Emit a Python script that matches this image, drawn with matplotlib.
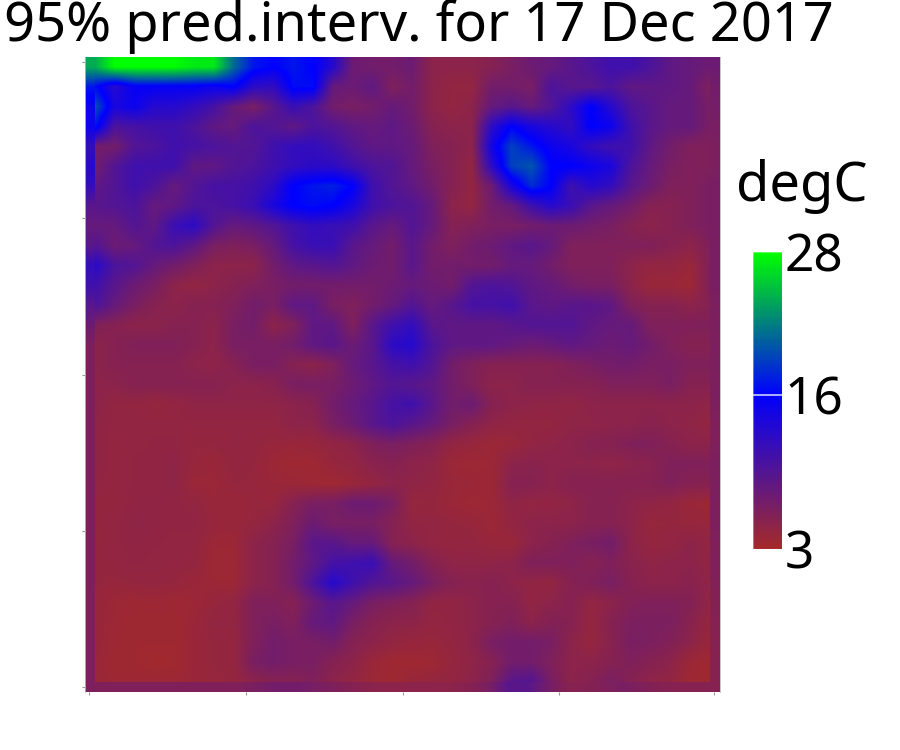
import numpy as np
import matplotlib
matplotlib.use('Agg')
import matplotlib.pyplot as plt
from matplotlib.colors import LinearSegmentedColormap

# values, degC, top row first
grid_rows = [
    [24,28,28,28,28,27,27,21,17,16,17,16,13,7.5,7,7, 7.5,5,5,5,5.5,6.5,7.5,8,9,10,11,11,10,8.5,8,7.5],
    [16.5,13,15.5,15.5,15.5,15.5,15,16,12.5,12,16.5,16.5,8,7.5,8.5,6, 7,5,4.5,4.5,7,7,6.5,10,9,9,10,8.5,8.5,8.5,8,6],
    [20,14,15,13,13,12,10.5,8,6.5,9,11.5,10,7,6.5,7,8, 7,5,4.5,5,8,9,8,9.5,12.5,16,13,10,9,8,8,6.5],
    [17,10,10.5,11,11,10,8.5,8,10,9.5,8.5,10,9.5,8.5,8,8.5, 7.5,5.5,5,5,12.5,16,14,13,12,16,15,11,9,8,8,6.5],
    [7,7,9.5,10,11,10.5,10,9.5,9.5,11,12,12,11,9.5,8.5,8.5, 8,6,5.5,5,14.5,19,17,15,14,12,11,11,8.5,7,6,6],
    [7,9.5,11,11,11,8.5,8.5,9.5,10,11,12,12.5,12.5,11,10,9.5, 8,6.5,5.5,4.5,12.5,19,20,16,16,15,14,10,8,6.5,6,6],
    [8.5,9.5,11,10,8,9.5,10.5,10.5,11,12.5,16,17,17.5,16,11,9.5, 8.5,7,5.5,4.5,7.5,14,18,16,11,13,12,9,7.5,6,6,6.5],
    [9,9.5,10,8,8.5,10,10,10.5,11.5,14,16,16.5,16,14,11,10, 9.5,8,5,4.5,7,8,11,13,11.5,9,8,7,5.5,5.5,6,6.5],
    [8,8,9.5,8.5,11.5,12.5,9.5,8,8.5,9.5,11,12,11.5,11,9,8, 9.5,8,5.5,6,6.5,6.5,7,7.5,7.5,7,6.5,5.5,5,5.5,6,6.5],
    [9.5,7.5,8,9.5,10,8.5,6.5,6,6.5,8,10.5,11.5,11.5,9,8,7, 9,7,6,7,7.5,8.5,9,8,6,6,6,6,6,5.5,5,6],
    [13,10,9.5,8,7,6,5,5,5,7,8.5,9,9.5,8.5,7.5,7, 9,7,7,7,7,8,8,7,6,6,6,5,4.5,4.5,4,6],
    [11,9,7.5,6.5,5,4.5,5,5.5,6,6.5,7,7,7,7,7,7.5, 8,7.5,7,9.5,10,9.5,8.5,8,7,6.5,6.5,5,4,4,3.7,6],
    [10,8,6.5,5.5,5,5.5,5.5,6,7,6.5,8.5,8.5,6.5,6,7,8, 9.5,8,9,10.5,10.5,11,9,8.5,9,9,8.5,6,5.5,5.5,5,5.5],
    [6,5.5,5,5,5.5,5.5,5,6.5,7,5,6,8.5,8.5,6,9,11, 12,9,8.5,8.5,8.5,9,9.5,9.5,9.5,8.5,8,8,6,6,6,6],
    [5,5.5,6,6,6,5.5,5,6.5,6.5,6.5,7,8.5,9,7.5,9,12.5, 13,10,8.5,8.5,8.5,8,7.5,8,8.5,8,7.5,8,7,6,5.5,5.5],
    [5,5.5,5.5,5.5,5.5,5,4.8,5.5,6.5,6.5,5.5,5,6,8,9,10.5, 11,9.5,7,6,5.5,5.5,5.5,5.5,6,6.5,7,7,6.5,6.5,6,6],
    [5,5,5.5,5.5,5.5,5.5,5.5,5,5,5.3,6.5,6.5,6.5,7.5,8.5,9.5, 9,8.5,7,6,5,5,5.5,5.5,5.5,5.5,6,6,6,6.5,5.5,5.5],
    [5,4.5,4.5,4.2,4.5,4.8,4.8,4.8,4.8,4.8,5,5.5,7,8,9,10.5, 11,9,7,7.5,5.5,5,4.8,4.8,4.6,5,5,5,5,5,5,4.8],
    [4.8,4.5,4.5,4.5,4.5,4.5,4.5,4.5,4.5,4.5,5,5,6.5,7.5,9,10, 9,8,6.5,5.5,4.8,4.5,4.5,4.5,4.8,4.8,5,5,5.3,5,4.8,4.5],
    [4.8,4.4,4.5,4.6,4.6,4.3,4.3,4.5,4.4,4.2,4,4.2,4.6,5,6,6.5, 6,5.5,4.5,4.2,3.8,4,4.6,4.8,5,5.5,5.5,6,6,5.5,5,5],
    [4.8,4.4,4.6,4.6,4.8,4.2,4,4.4,4.3,3.8,3.6,3.6,4.2,4.5,5.2,5.5, 5,4.8,3.8,3.7,3.8,5,5.2,5,5,5,4.8,5,5.3,6,6,6],
    [4.6,4.4,4.6,4.6,4.8,3.9,3.9,4.3,4.2,4,3.9,3.7,3.6,4,4.5,5, 4.8,4.6,4,3.9,3.8,5.5,5.5,5,5.5,5.5,5.5,5.5,5.5,6,5.5,5.5],
    [4.3,4.3,4.7,4.7,4.6,4.5,4,4,4.2,4.2,5.5,6.5,6.5,7.5,7.5,6.5, 4.2,4.3,3.9,3.7,3.8,4.8,4.5,4.6,4.8,5.5,5.5,5,4.8,4.5,4,3.8],
    [4.3,4.5,4.8,4.7,4.6,4.6,4.2,4.1,4.3,5,6,7.5,6.5,6.5,6.5,5.5, 4.6,4.5,4.3,4.2,3.8,4.5,5,5,5,5.5,5.5,5,4.2,4.3,4.2,4.2],
    [4.3,4.5,4.7,4.6,4.5,4.5,3.8,3.8,5,5.5,6.5,9,9,8,8,5.5, 5,4.5,4.4,4.4,4.1,4,5,5.5,6,6.5,7,5,4.4,4.5,5,4.5],
    [4.3,4.4,4.6,4.5,4.5,4.4,3.7,3.7,5,5.5,7,8.5,10.5,11,11.5,8, 7,5.5,4.8,4.8,4.8,5,6,6,6,5.5,6,5.2,4.8,4.9,5,4.6],
    [4.3,4.2,4.3,4.4,4.3,4,3.8,3.8,5,5.5,7,10,13,11,9.5,9, 8,6.5,5.5,5.2,5.5,5,4.6,4.5,5.5,6,6.5,5.5,5,5,5.3,4.8],
    [4.2,3.8,3.6,3.7,3.6,3.8,4.2,4.5,6,6,5.5,7.5,9,8,6.5,6, 5.5,4.6,4.6,5,5.5,5.5,4.6,5,5.5,4.5,5,5.8,6,6,5.7,4.6],
    [4.2,3.7,3.5,3.5,3.5,4,4.5,4.5,6,6.5,6,8,8.5,6.5,5.5,5, 5,4.5,4.6,5,5.5,6,5,5.8,5.5,4.3,5.5,6.3,6.3,6.3,5.3,4.3],
    [4.2,3.6,3.5,3.5,3.5,4,4.3,4.4,6,7,6.5,6.5,7,5.5,5,4.5, 4.2,4.1,4.5,5,6.5,7,7,6.5,5,4.3,5.3,6.5,6.3,5.8,5,4],
    [4,3.5,3.5,3.3,3.4,4,4.3,4.3,6.5,7,6.5,6.5,5.5,5,4,3.5, 3.5,3.7,4.3,4.8,5.5,7,7,6,5,5,5.5,6,5.5,5,3.8,3.5],
    [4,3.7,3.7,3.7,3.7,4,4.2,4.3,5,5.5,5.5,6,5,4.5,3.8,3.5, 4.2,4.3,4.5,5,6,9,9.5,6.5,5,5.5,6.5,5.5,4.8,4.6,3.6,3.5],
]

# the outermost cells of the map are a bit more purple than their neighbours
left_edge = [24,17,15,15,12,13,12,9,8,9,12,11,9,7.5,6.2,6.2,6.2,6.2,6.2,6.2,6.2,6.2,6.2,6.2,6.2,6.2,6.2,6.2,6.2,6.2,6.2,6.2]
right_edge = [7.5,7,6.8,6.5,6.3,6.3,6.5,6.5,6.5,6.5,6.5,6.5,6.3,6.3,6.3,6.3,6.3,6.2,6,6,6.3,6.3,6.2,6.2,6,6,5.8,5.6,5.5,5.5,5.5,5.5]
bottom_edge = [6,6,6,6,6,6,6,6,6.5,7,7,6.5,6,5.5,5,5,5,5,5,5.5,6.5,9,9,7,5.5,5.5,6,6.5,6,5.5,5.5,5.5]

x_ticks = [0.2, 8.1, 16, 23.9, 31.7]
y_ticks = [0.25, 8.1, 16, 23.9, 31.75]
cbar_ticks = [3, 16, 28]

plt.rcParams['font.family'] = ['Noto Sans', 'DejaVu Sans']

vmin, vmax = 3, 28
cmap = LinearSegmentedColormap.from_list(
    'predint', [(0, '#a52a2a'), ((16 - vmin) / (vmax - vmin), '#0000ff'), (1, '#00ff00')])

grid = np.array(grid_rows)

fig = plt.figure(figsize=(9, 7.5), dpi=100)

# main map
ax = fig.add_axes([85 / 900, 1 - 692 / 750, 635 / 900, 635 / 750])
ax.imshow(grid, cmap=cmap, vmin=vmin, vmax=vmax, extent=(0, 32, 32, 0),
          interpolation='bilinear', aspect='auto')
ax.imshow(np.array(left_edge).reshape(-1, 1), cmap=cmap, vmin=vmin, vmax=vmax,
          extent=(0, 0.48, 32, 0), interpolation='bilinear', aspect='auto')
ax.imshow(np.array(right_edge).reshape(-1, 1), cmap=cmap, vmin=vmin, vmax=vmax,
          extent=(31.52, 32, 32, 0), interpolation='bilinear', aspect='auto')
ax.imshow(np.array(bottom_edge).reshape(1, -1), cmap=cmap, vmin=vmin, vmax=vmax,
          extent=(0.48, 31.52, 32, 31.52), interpolation='bilinear', aspect='auto')
ax.set_xlim(0, 32)
ax.set_ylim(32, 0)
ax.set_xticks(x_ticks)
ax.set_yticks(y_ticks)
ax.tick_params(length=2, width=0.8, color='#999999', labelbottom=False, labelleft=False)
for side in ['top', 'bottom']:
    ax.spines[side].set_visible(False)
for side in ['left', 'right']:
    ax.spines[side].set_color('#bbbbbb')
    ax.spines[side].set_linewidth(0.6)

# title sits left of the map, starts almost at the figure edge
fig.text(4 / 900, 1 - 41 / 750, '95% pred.interv. for 17 Dec 2017', fontsize=39, color='black',
         ha='left', va='baseline')

# colour bar
cax = fig.add_axes([753 / 900, 1 - 549 / 750, 29 / 900, 297 / 750])
ramp = np.linspace(vmin, vmax, 300).reshape(-1, 1)
cax.imshow(ramp, cmap=cmap, vmin=vmin, vmax=vmax, origin='lower',
           extent=(0, 1, vmin, vmax), aspect='auto')
cax.set_xlim(0, 1)
cax.set_ylim(vmin, vmax)
cax.set_xticks([])
cax.yaxis.tick_right()
cax.set_yticks(cbar_ticks)
cax.set_yticklabels([str(t) for t in cbar_ticks], fontsize=37)
cax.tick_params(axis='y', length=0, pad=2)
cax.axhline(16, color='white', lw=1.2, alpha=0.8)
for side in cax.spines:
    cax.spines[side].set_color('white')
    cax.spines[side].set_alpha(0.35)
    cax.spines[side].set_linewidth(0.8)

fig.text(736 / 900, 1 - 187 / 750, 'degC', fontsize=39, color='black', ha='left', va='center')

fig.savefig('out.png', dpi=100)
